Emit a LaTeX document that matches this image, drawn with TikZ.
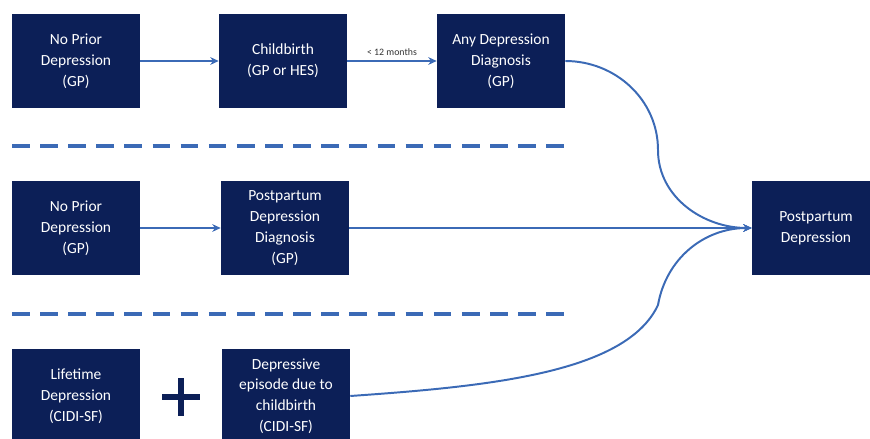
\documentclass[tikz,border=0pt]{standalone}
\usepackage{fontspec}
\setmainfont{Carlito}
\usetikzlibrary{positioning,arrows.meta}
\definecolor{navy}{RGB}{12,31,87}
\definecolor{linkblue}{RGB}{59,106,182}
\begin{document}
\begin{tikzpicture}[x=0.025cm,y=-0.025cm,
	box/.style={fill=navy,text=white,minimum width=3.2cm,minimum height=2.35cm,align=center,inner sep=2pt,font=\fontsize{11}{14.8}\selectfont},
	link/.style={linkblue,line width=1.4pt,-{Stealth[length=6pt,width=5.5pt]}},
	sep/.style={linkblue,line width=2.2pt,dash pattern=on 12.5pt off 7.5pt}]
	\useasboundingbox (0,0) rectangle (870,439);
	\clip (0,0) rectangle (870,439);
	% route 1: GP records
	\node[box] (nopriorA) at (76,61) {No Prior\\Depression\\(GP)};
	\node[box] (birth) at (283,61) {Childbirth\\(GP or HES)};
	\node[box] (anydep) at (501,61) {Any Depression\\Diagnosis\\(GP)};
	% route 2: postpartum code
	\node[box] (nopriorB) at (76,228) {No Prior\\Depression\\(GP)};
	\node[box] (ppddiag) at (285,228) {Postpartum\\Depression\\Diagnosis\\(GP)};
	% route 3: questionnaire
	\node[box] (lifetime) at (76,396) {Lifetime\\Depression\\(CIDI-SF)};
	\node[box] (episode) at (286,396) {Depressive\\episode due to\\childbirth\\(CIDI-SF)};
	% outcome
	\node[box] (ppd) at (816,228) {Postpartum\\Depression};
	\draw[sep] (12,146) -- (570,146); % separators
	\draw[sep] (12,314) -- (570,314);
	\draw[navy,line width=3.6pt] (162,397) -- (200,397) (181,378) -- (181,416); % plus
	\draw[link] (nopriorA) -- (birth);
	\draw[link] (birth) -- node[above,text=black!80,font=\fontsize{7}{8}\selectfont]{< 12 months} (anydep);
	\draw[link] (nopriorB) -- (ppddiag);
	\draw[link] (ppddiag) -- (ppd);
	\coordinate (bendA) at (658,150);
	\coordinate (bendB) at (658,305);
	\draw[link] (anydep.east) to[out=0,in=90] (bendA) to[out=-90,in=180] (ppd.west);
	\draw[link] (episode.east) to[out=4,in=-115,out looseness=1.1,in looseness=0.6] (bendB) to[out=80,in=180] (ppd.west);
\end{tikzpicture}
\end{document}
